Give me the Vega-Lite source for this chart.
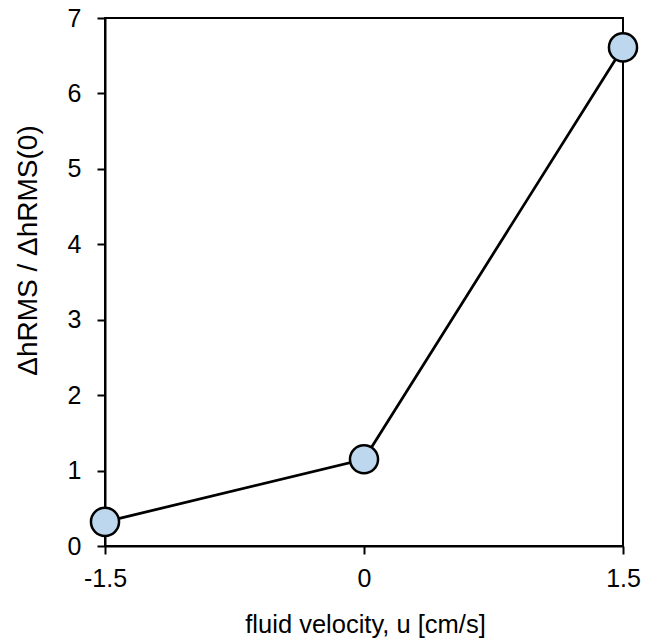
{
  "$schema": "https://vega.github.io/schema/vega-lite/v6.json",
  "width": 518,
  "height": 528,
  "autosize": {"type": "none"},
  "padding": {"left": 105, "top": 18, "right": 22, "bottom": 98},
  "background": "white",
  "config": {
    "view": {"stroke": "black", "strokeWidth": 2},
    "font": "Liberation Sans",
    "axis": {
      "grid": false,
      "domainColor": "black",
      "domainWidth": 2,
      "tickColor": "black",
      "tickWidth": 2,
      "tickSize": 8,
      "labelColor": "black",
      "labelFont": "Liberation Sans",
      "labelFontSize": 25,
      "titleFont": "Liberation Sans",
      "titleFontSize": 25.5,
      "titleFontWeight": "normal",
      "titleColor": "black"
    }
  },
  "data": {
    "values": [
      {"u": -1.5, "r": 0.32},
      {"u": 0, "r": 1.15},
      {"u": 1.5, "r": 6.61}
    ]
  },
  "encoding": {
    "x": {
      "field": "u",
      "type": "quantitative",
      "scale": {"domain": [-1.5, 1.5], "nice": false, "zero": false},
      "axis": {
        "values": [-1.5, 0, 1.5],
        "labelExpr": "'' + datum.value",
        "labelPadding": 12,
        "title": "fluid velocity, u [cm/s]",
        "titleY": 86,
        "titleX": 260,
        "titleBaseline": "alphabetic",
        "titleAlign": "center",
        "labelFlush": false
      }
    },
    "y": {
      "field": "r",
      "type": "quantitative",
      "scale": {"domain": [0, 7], "nice": false},
      "axis": {
        "values": [0, 1, 2, 3, 4, 5, 6, 7],
        "labelPadding": 16,
        "title": "ΔhRMS / ΔhRMS(0)",
        "titleFontSize": 28,
        "titleX": -69,
        "titleY": 232,
        "titleAngle": -90,
        "titleAlign": "center",
        "titleBaseline": "alphabetic",
        "labelFlush": false
      }
    }
  },
  "layer": [
    {"mark": {"type": "line", "color": "black", "strokeWidth": 2.75, "clip": false}},
    {"mark": {"type": "point", "filled": true, "fill": "#BDD7EE", "stroke": "black", "strokeWidth": 2.5, "size": 790, "opacity": 1, "clip": false}}
  ]
}
